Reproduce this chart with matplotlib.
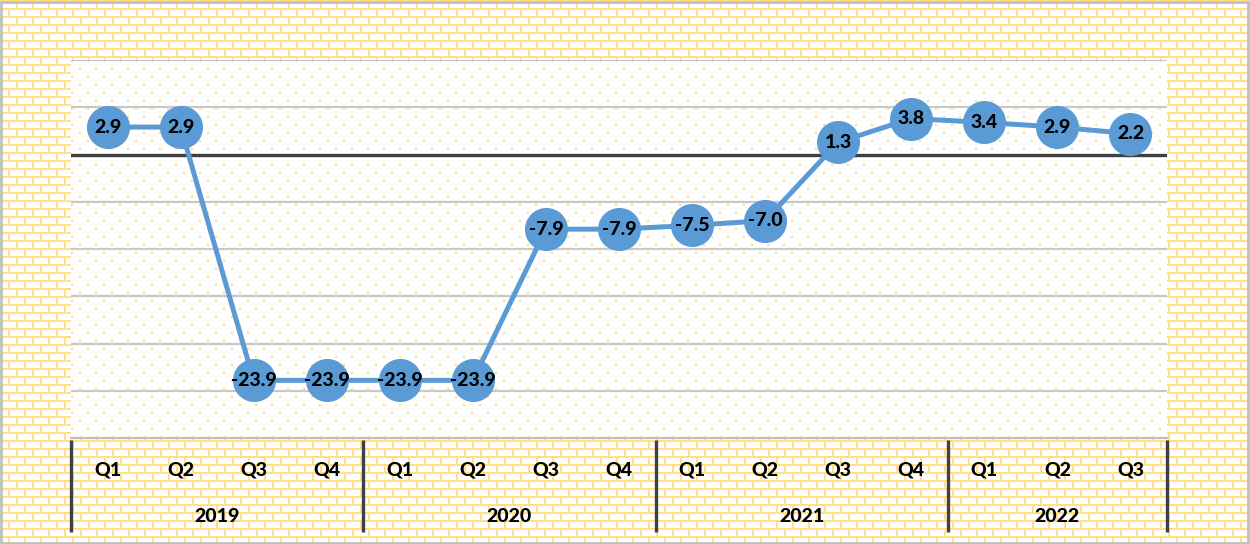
"""Quarterly growth line chart on a brick-textured background (out.png)."""

import numpy as np
import matplotlib
matplotlib.use("Agg")
import matplotlib.pyplot as plt
from matplotlib.patches import Rectangle
from matplotlib.transforms import blended_transform_factory

plt.rcParams["font.family"] = ["Lato", "DejaVu Sans"]

years = ["2019", "2020", "2021", "2022"]
quarters = ["Q1", "Q2", "Q3", "Q4",
            "Q1", "Q2", "Q3", "Q4",
            "Q1", "Q2", "Q3", "Q4",
            "Q1", "Q2", "Q3"]
quarters_per_year = [4, 4, 4, 3]
growth = [2.9, 2.9, -23.9, -23.9,
          -23.9, -23.9, -7.9, -7.9,
          -7.5, -7.0, 1.3, 3.8,
          3.4, 2.9, 2.2]

W, H = 1250, 544
YELLOW = np.array([255, 224, 132]) / 255.0
DOT = np.array([255, 220, 125]) / 255.0
BLUE = "#5B9BD5"


def brick_texture(w, h):
    img = np.ones((h, w, 3))
    yy, xx = np.mgrid[0:h, 0:w]
    row = yy // 8
    shift = (row % 2) * 8
    mortar = (yy % 8 < 2) | (((xx + shift) % 16) < 2)
    img[mortar] = YELLOW
    return img


def dot_texture(w, h):
    img = np.ones((h, w, 3))
    yy, xx = np.mgrid[0:h, 0:w]
    row = yy // 8
    shift = (row % 2) * 8
    dots = (yy % 8 < 2) & (((xx + shift) % 16) < 2)
    img[dots] = DOT
    return img


fig = plt.figure(figsize=(W / 100, H / 100), dpi=100)

bg = fig.add_axes([0, 0, 1, 1], zorder=-10)
bg.imshow(brick_texture(W, H), aspect="auto", interpolation="nearest")
bg.set_axis_off()

left, right, top, bottom = 71, 1167, 60, 438
ax = fig.add_axes([left / W, 1 - bottom / H, (right - left) / W, (bottom - top) / H])
n = len(growth)
x = np.arange(n)
ax.set_xlim(-0.5, n - 0.5)
ax.set_ylim(-30, 10)
ax.imshow(dot_texture(right - left, bottom - top), extent=(-0.5, n - 0.5, -30, 10),
          aspect="auto", interpolation="nearest", zorder=0)

for y in range(-25, 11, 5):
    if y == 0:
        continue
    ax.axhline(y, color="#C8C8C8", lw=1.6, zorder=1)
ax.axhline(0, color="#404040", lw=2.4, zorder=1)
ax.axhline(-30, color="#BFBFBF", lw=1.6, zorder=1, clip_on=False)

ax.plot(x, growth, color=BLUE, lw=3.6, marker="o", markersize=30,
        markerfacecolor=BLUE, markeredgecolor=BLUE, zorder=3)
for xi, v in zip(x, growth):
    ax.text(xi, v, f"{v:.1f}", ha="center", va="center", fontsize=14,
            fontweight="black", color="black", zorder=4)

for s in ax.spines.values():
    s.set_visible(False)
ax.set_xticks([])
ax.set_yticks([])

# two-level category axis below the plot
trans = blended_transform_factory(ax.transData, fig.transFigure)
for xi, q in zip(x, quarters):
    ax.text(xi, 1 - 470 / H, q, transform=trans, ha="center", va="center",
            fontsize=14, fontweight="black", clip_on=False)

edges = np.concatenate([[0], np.cumsum(quarters_per_year)]) - 0.5
for e in edges:
    ax.plot([e, e], [1 - 440 / H, 1 - 532 / H], transform=trans, color="#404040",
            lw=2.4, clip_on=False, solid_capstyle="butt")
for yr, a, b in zip(years, edges[:-1], edges[1:]):
    ax.text((a + b) / 2, 1 - 517 / H, yr, transform=trans, ha="center", va="center",
            fontsize=14, fontweight="black", clip_on=False)

# thin light frame around the whole chart
fig.patches.append(Rectangle((0.001, 0.002), 0.997, 0.995, transform=fig.transFigure,
                             fill=False, edgecolor="#C0C0C0", lw=2))

fig.savefig("out.png", dpi=100)
